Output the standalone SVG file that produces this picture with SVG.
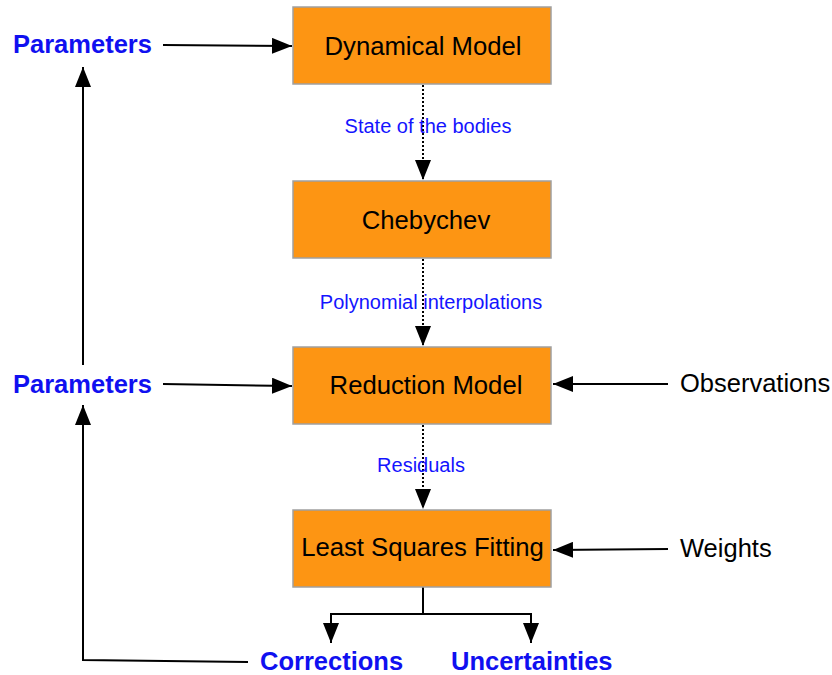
<svg xmlns="http://www.w3.org/2000/svg" width="832" height="675" viewBox="0 0 832 675">
<defs>
<style>
.box{fill:#fd9513;stroke:#a0a0a0;stroke-width:1.5}
.bt{font-family:"Liberation Sans",Arial,sans-serif;font-size:25.7px;fill:#000;text-anchor:middle}
.lbl{font-family:"Liberation Sans",Arial,sans-serif;font-size:20px;fill:#1414ff;text-anchor:middle}
.blue{font-family:"Liberation Sans",Arial,sans-serif;font-size:25.5px;font-weight:bold;fill:#1010f0}
.ext{font-family:"Liberation Sans",Arial,sans-serif;font-size:25.5px;fill:#000}
.ln{stroke:#000;stroke-width:2;fill:none}
.dot{stroke:#000;stroke-width:2;fill:none;stroke-dasharray:2 2}
</style>
<marker id="ah" viewBox="0 0 20 16" refX="20" refY="8" markerWidth="20" markerHeight="16" markerUnits="userSpaceOnUse" orient="auto">
<path d="M0,0 L20,8 L0,16 Z" fill="#000"/>
</marker>
</defs>
<rect width="832" height="675" fill="#fff"/>
<g id="connectors">
<path class="dot" d="M423,85 V180" marker-end="url(#ah)"/>
<path class="dot" d="M423,259 V346" marker-end="url(#ah)"/>
<path class="dot" d="M423,425 V509" marker-end="url(#ah)"/>
<path class="ln" d="M163,45 L292,46" marker-end="url(#ah)"/>
<path class="ln" d="M163,384 L292,386" marker-end="url(#ah)"/>
<path class="ln" d="M668,384 L553,384" marker-end="url(#ah)"/>
<path class="ln" d="M668,549 L553,550" marker-end="url(#ah)"/>
<path class="ln" d="M83,365 V67" marker-end="url(#ah)"/>
<path class="ln" d="M248,662 L83,660 V405" marker-end="url(#ah)"/>
<path class="ln" d="M423,587 V614 H331 V643" marker-end="url(#ah)"/>
<path class="ln" d="M423,614 H531 V643" marker-end="url(#ah)"/>
</g>
<g id="labels">
<text class="lbl" x="428" y="133">State of the bodies</text>
<text class="lbl" x="431" y="309">Polynomial interpolations</text>
<text class="lbl" x="421" y="472">Residuals</text>
</g>
<g id="dynamical"><rect class="box" x="293" y="7" width="258" height="77"/><text class="bt" x="423" y="55">Dynamical Model</text></g>
<g id="chebychev"><rect class="box" x="293" y="181" width="258" height="77"/><text class="bt" x="426" y="229">Chebychev</text></g>
<g id="reduction"><rect class="box" x="293" y="347" width="258" height="77"/><text class="bt" x="426" y="394">Reduction Model</text></g>
<g id="leastsquares"><rect class="box" x="293" y="510" width="258" height="77"/><text class="bt" x="422.5" y="556">Least Squares Fitting</text></g>
<g id="params1"><text class="blue" x="13" y="53">Parameters</text></g>
<g id="params2"><text class="blue" x="13" y="393">Parameters</text></g>
<g id="observations"><text class="ext" x="680" y="392">Observations</text></g>
<g id="weights"><text class="ext" x="680" y="557">Weights</text></g>
<g id="corrections"><text class="blue" x="260" y="670">Corrections</text></g>
<g id="uncertainties"><text class="blue" x="451" y="670">Uncertainties</text></g>
</svg>
